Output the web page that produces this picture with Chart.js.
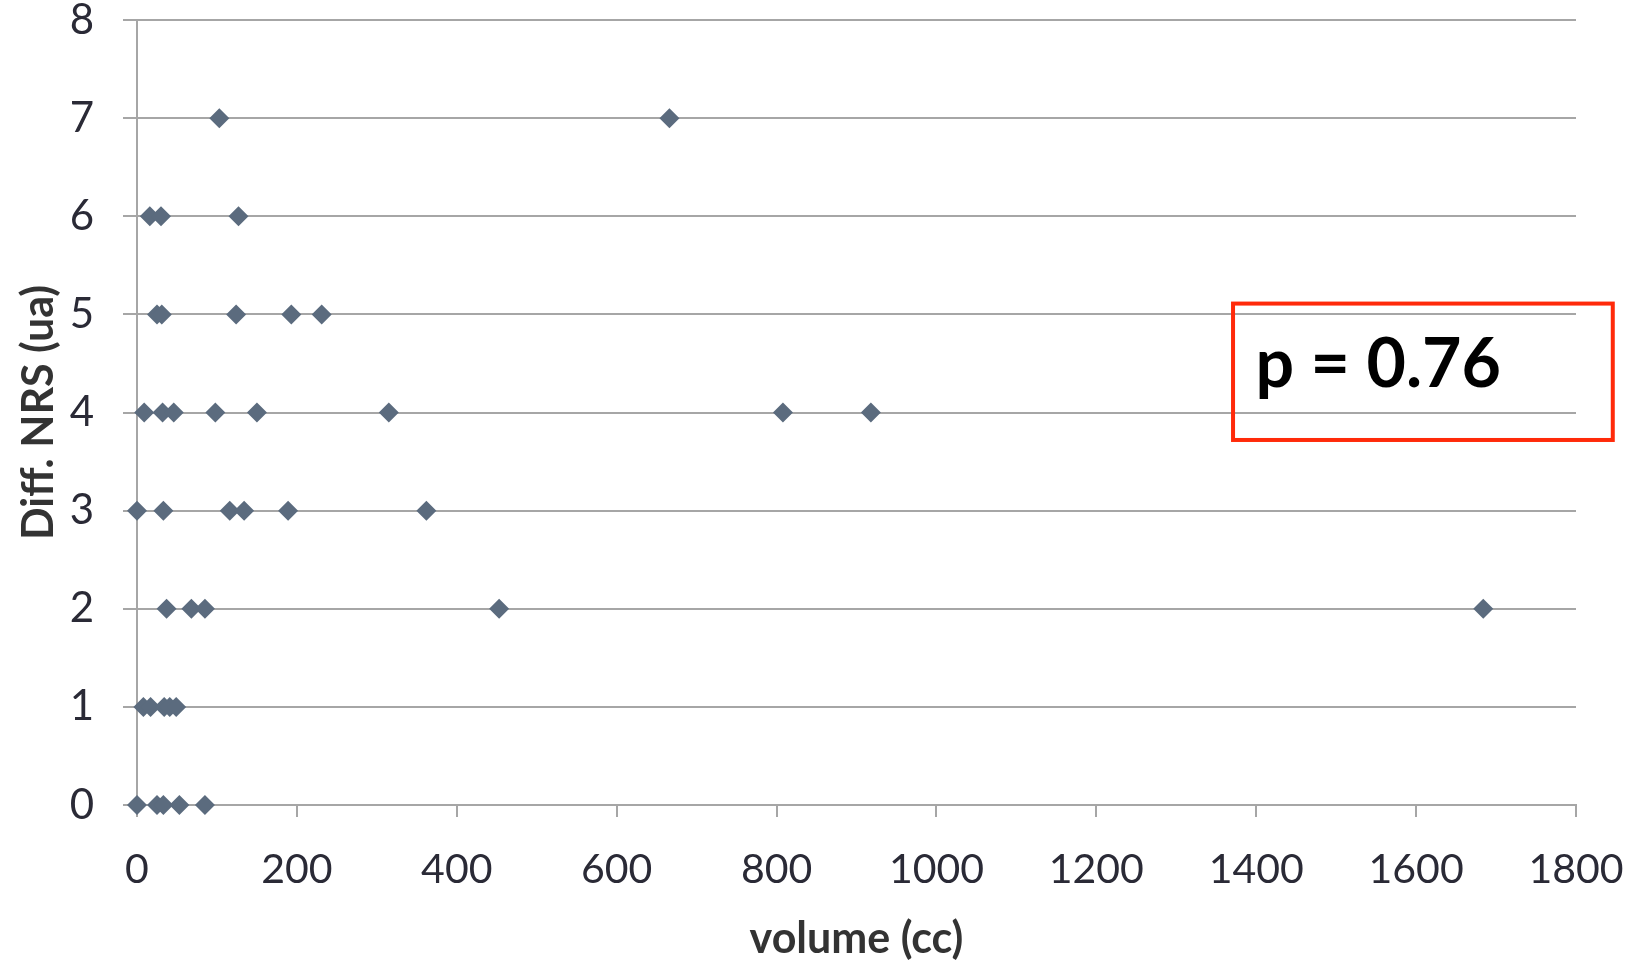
<!DOCTYPE html>
<html>
<head>
<meta charset="utf-8">
<script src="https://cdn.jsdelivr.net/npm/chart.js@4/dist/chart.umd.min.js"></script>
<style>
  html, body { margin: 0; padding: 0; background: #fff; }
  #wrap { width: 1635px; height: 963px; }
</style>
</head>
<body>
<div id="wrap"><canvas id="nrsScatter" width="1635" height="963"></canvas></div>
<script>
// --- data ---
const volumeCc = [
    103, 666,
    16, 30, 127,
    25, 31, 124, 193, 231,
    9, 32, 46, 98, 150, 315, 808, 918,
    0, 33, 116, 134, 189, 362,
    37, 68, 85, 453, 1684,
    8, 17, 34, 41, 49,
    0, 25, 33, 53, 85
];
const diffNrs = [
    7, 7,
    6, 6, 6,
    5, 5, 5, 5, 5,
    4, 4, 4, 4, 4, 4, 4, 4,
    3, 3, 3, 3, 3, 3,
    2, 2, 2, 2, 2,
    1, 1, 1, 1, 1,
    0, 0, 0, 0, 0
];
const xTicks = [0, 200, 400, 600, 800, 1000, 1200, 1400, 1600, 1800];
const yTicks = [0, 1, 2, 3, 4, 5, 6, 7, 8];
const pValueText = 'p = 0.76';

const gridGray = '#a6a6a6';
const tickColor = '#2a2a36';

// red box with the p value, placed through the scales
const pValueBox = {
    id: 'pValueBox',
    afterDraw(chart) {
        const x = chart.scales.x, y = chart.scales.y;
        const ctx = chart.ctx;
        const left = x.getPixelForValue(1371);
        const right = x.getPixelForValue(1846);
        const top = y.getPixelForValue(5.11);
        const bottom = y.getPixelForValue(3.72);
        ctx.save();
        ctx.strokeStyle = '#ff2a0a';
        ctx.lineWidth = 4;
        ctx.strokeRect(left, top, right - left, bottom - top);
        ctx.fillStyle = '#000';
        ctx.font = 'bold 68px Lato, "Open Sans", sans-serif';
        ctx.textBaseline = 'alphabetic';
        ctx.fillText(pValueText, x.getPixelForValue(1399), y.getPixelForValue(4.26));
        ctx.restore();
    }
};

const points = volumeCc.map((v, i) => ({ x: v, y: diffNrs[i] }));

new Chart(document.getElementById('nrsScatter').getContext('2d'), {
    type: 'scatter',
    data: {
        datasets: [{
            label: 'Diff. NRS',
            data: points,
            pointStyle: 'rectRot',
            pointRadius: 10,
            pointHoverRadius: 10,
            backgroundColor: '#5b6b7e',
            borderWidth: 0,
            clip: false
        }]
    },
    options: {
        responsive: false,
        animation: false,
        layout: { padding: { left: 0, right: 59, top: 20, bottom: 0 } },
        plugins: {
            legend: { display: false },
            tooltip: { enabled: false }
        },
        scales: {
            x: {
                type: 'linear',
                min: 0,
                max: 1800,
                afterBuildTicks: (s) => { s.ticks = xTicks.map(v => ({ value: v })); },
                afterFit: (s) => { s.height = 158; s.paddingLeft = 0; s.paddingRight = 0; },
                ticks: {
                    color: tickColor,
                    font: { family: 'Lato, "Open Sans", sans-serif', size: 41, lineHeight: 1.2 },
                    padding: 28,
                    maxRotation: 0,
                    callback: (v) => String(v)
                },
                grid: { drawOnChartArea: false, drawTicks: true, tickLength: 12, color: gridGray, lineWidth: 2 },
                border: { display: true, color: gridGray, width: 2 },
                title: {
                    display: true,
                    text: 'volume (cc)',
                    color: '#333',
                    font: { family: 'Lato, "Open Sans", sans-serif', size: 43, weight: 'bold', lineHeight: 1.1 },
                    padding: { top: 0, bottom: 0 }
                }
            },
            y: {
                type: 'linear',
                min: 0,
                max: 8,
                afterBuildTicks: (s) => { s.ticks = yTicks.map(v => ({ value: v })); },
                afterFit: (s) => { s.width = 137; s.paddingTop = 0; s.paddingBottom = 0; },
                ticks: {
                    color: tickColor,
                    font: { family: 'Lato, "Open Sans", sans-serif', size: 42, lineHeight: 1 },
                    padding: 29,
                    callback: (v) => String(v)
                },
                grid: { color: gridGray, lineWidth: 2, tickLength: 14 },
                border: { display: true, color: gridGray, width: 2 },
                title: {
                    display: true,
                    text: 'Diff. NRS (ua)',
                    color: '#333',
                    font: { family: 'Lato, "Open Sans", sans-serif', size: 43, weight: 'bold', lineHeight: 1.2 },
                    padding: { top: 13, bottom: 0 }
                }
            }
        }
    },
    plugins: [pValueBox]
});
</script>
</body>
</html>
